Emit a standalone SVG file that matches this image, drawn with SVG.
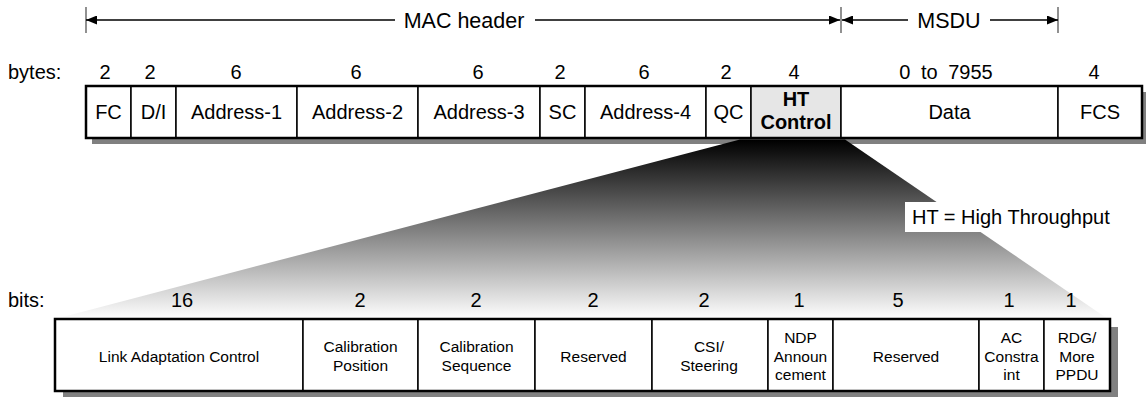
<svg xmlns="http://www.w3.org/2000/svg" width="1146" height="398" viewBox="0 0 1146 398">
<style>
text{font-family:"Liberation Sans",Arial,sans-serif;fill:#000}
.t{font-size:20px;text-anchor:middle}
.n{font-size:20px;text-anchor:middle}
.b{font-size:15.5px;text-anchor:middle}
.d{font-size:21.5px;text-anchor:middle}
.lbl{font-size:20px}
.cell{fill:#fff;stroke:#000;stroke-width:1.5}
.frame{fill:none;stroke:#000;stroke-width:2.5}
.shadow{fill:#808080}
.dim{stroke:#000;stroke-width:1.4;fill:none;marker-end:url(#ah)}
.tick{stroke:#555;stroke-width:1.3}
</style>
<defs>
<marker id="ah" markerUnits="userSpaceOnUse" markerWidth="11" markerHeight="9" refX="11" refY="4.5" orient="auto">
<path d="M0,0 L11,4.5 L0,9 z" fill="#000"/>
</marker>
<linearGradient id="zg" x1="0" y1="140" x2="0" y2="319" gradientUnits="userSpaceOnUse">
<stop offset="0" stop-color="#000"/>
<stop offset="1" stop-color="#fff"/>
</linearGradient>
</defs>
<rect width="1146" height="398" fill="#fff"/>

<g id="connectors">
<line class="tick" x1="86" y1="7" x2="86" y2="33"/>
<line class="tick" x1="841" y1="7" x2="841" y2="33"/>
<line class="tick" x1="1058" y1="7" x2="1058" y2="33"/>
<line class="dim" x1="395" y1="20" x2="86" y2="20"/>
<line class="dim" x1="535" y1="20" x2="840" y2="20"/>
<line class="dim" x1="908" y1="20" x2="842" y2="20"/>
<line class="dim" x1="990" y1="20" x2="1058" y2="20"/>
<text class="d" x="464" y="28">MAC header</text>
<text class="d" x="949" y="28">MSDU</text>
</g>

<g id="mac-frame">
<rect class="shadow" x="92" y="92" width="1056" height="52"/>
<text class="lbl" x="8" y="79">bytes:</text>
<g id="fc"><rect class="cell" x="86" y="86" width="45" height="52"/><text class="n" x="105" y="79">2</text><text class="t" x="108.5" y="119">FC</text></g>
<g id="di"><rect class="cell" x="131" y="86" width="45" height="52"/><text class="n" x="150" y="79">2</text><text class="t" x="153.5" y="119">D/I</text></g>
<g id="addr1"><rect class="cell" x="176" y="86" width="121" height="52"/><text class="n" x="236" y="79">6</text><text class="t" x="236.5" y="119">Address-1</text></g>
<g id="addr2"><rect class="cell" x="297" y="86" width="121" height="52"/><text class="n" x="356" y="79">6</text><text class="t" x="357.5" y="119">Address-2</text></g>
<g id="addr3"><rect class="cell" x="418" y="86" width="122" height="52"/><text class="n" x="478" y="79">6</text><text class="t" x="479" y="119">Address-3</text></g>
<g id="sc"><rect class="cell" x="540" y="86" width="45" height="52"/><text class="n" x="560" y="79">2</text><text class="t" x="562.5" y="119">SC</text></g>
<g id="addr4"><rect class="cell" x="585" y="86" width="121" height="52"/><text class="n" x="644" y="79">6</text><text class="t" x="645.5" y="119">Address-4</text></g>
<g id="qc"><rect class="cell" x="706" y="86" width="45" height="52"/><text class="n" x="726" y="79">2</text><text class="t" x="728.5" y="119">QC</text></g>
<g id="htc"><rect class="cell" x="751" y="86" width="90" height="52" style="fill:#e6e6e6"/><text class="n" x="794" y="79">4</text><text class="t" x="796" y="106" font-weight="bold">HT</text><text class="t" x="796" y="129" font-weight="bold">Control</text></g>
<g id="data"><rect class="cell" x="841" y="86" width="217" height="52"/><text class="n" x="946" y="79" word-spacing="5">0 to 7955</text><text class="t" x="949.5" y="119">Data</text></g>
<g id="fcs"><rect class="cell" x="1058" y="86" width="84" height="52"/><text class="n" x="1094" y="79">4</text><text class="t" x="1100" y="119">FCS</text></g>
<rect class="frame" x="86" y="86" width="1056" height="52"/>
</g>

<g id="zoom-fan">
<polygon points="740,139.5 845,139.5 1108,319 55,319" fill="url(#zg)"/>
</g>

<g id="ht-note">
<rect x="905" y="202" width="210" height="30" fill="#fff"/>
<text class="lbl" x="912" y="224">HT = High Throughput</text>
</g>

<g id="ht-frame">
<rect class="shadow" x="63" y="327" width="1055" height="70"/>
<text class="lbl" x="8" y="307">bits:</text>
<g id="lac"><rect class="cell" x="55" y="319" width="248" height="72"/><text class="n" x="182" y="307">16</text><text class="b" x="179" y="361.5">Link Adaptation Control</text></g>
<g id="calpos"><rect class="cell" x="303" y="319" width="115" height="72"/><text class="n" x="360" y="307">2</text><text class="b" x="360.5" y="351.5">Calibration</text><text class="b" x="360.5" y="370.5">Position</text></g>
<g id="calseq"><rect class="cell" x="418" y="319" width="117" height="72"/><text class="n" x="476" y="307">2</text><text class="b" x="476.5" y="351.5">Calibration</text><text class="b" x="476.5" y="370.5">Sequence</text></g>
<g id="res1"><rect class="cell" x="535" y="319" width="117" height="72"/><text class="n" x="593" y="307">2</text><text class="b" x="593.5" y="361.5">Reserved</text></g>
<g id="csi"><rect class="cell" x="652" y="319" width="116" height="72"/><text class="n" x="704" y="307">2</text><text class="b" x="709" y="351.5">CSI/</text><text class="b" x="709" y="370.5">Steering</text></g>
<g id="ndp"><rect class="cell" x="768" y="319" width="65" height="72"/><text class="n" x="799" y="307">1</text><text class="b" x="800.5" y="342.5">NDP</text><text class="b" x="800.5" y="361.5">Announ</text><text class="b" x="800.5" y="380">cement</text></g>
<g id="res2"><rect class="cell" x="833" y="319" width="146" height="72"/><text class="n" x="898" y="307">5</text><text class="b" x="906" y="361.5">Reserved</text></g>
<g id="ac"><rect class="cell" x="979" y="319" width="65" height="72"/><text class="n" x="1009" y="307">1</text><text class="b" x="1011.5" y="342.5">AC</text><text class="b" x="1011.5" y="361.5">Constra</text><text class="b" x="1011.5" y="380">int</text></g>
<g id="rdg"><rect class="cell" x="1044" y="319" width="66" height="72"/><text class="n" x="1071" y="307">1</text><text class="b" x="1077" y="342.5">RDG/</text><text class="b" x="1077" y="361.5">More</text><text class="b" x="1077" y="380">PPDU</text></g>
<rect class="frame" x="55" y="319" width="1055" height="72"/>
</g>
</svg>
